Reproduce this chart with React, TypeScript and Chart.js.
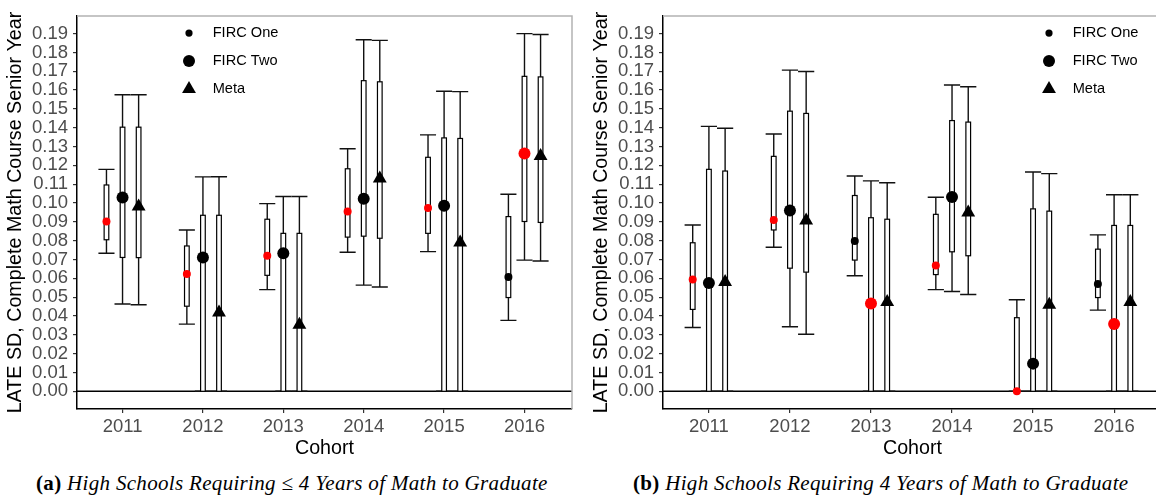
import React, { useEffect, useRef } from 'react';
import { Chart, registerables } from 'chart.js';
Chart.register(...registerables);

// ---------------- data ----------------
const cohorts = [2011, 2012, 2013, 2014, 2015, 2016];
const yTickValues = [0, 0.01, 0.02, 0.03, 0.04, 0.05, 0.06, 0.07, 0.08, 0.09, 0.1, 0.11, 0.12, 0.13, 0.14, 0.15, 0.16, 0.17, 0.18, 0.19];
const legendLabels = ['FIRC One', 'FIRC Two', 'Meta'];
const yTitle = 'LATE SD, Complete Math Course Senior Year';
const xTitle = 'Cohort';

// Panel (a): High Schools Requiring <= 4 Years of Math
const aOneEst = [0.0902, 0.0623, 0.072, 0.0955, 0.0974, 0.0607];
const aOneLo = [0.0733, 0.0357, 0.054, 0.0739, 0.0742, 0.0377];
const aOneHi = [0.1179, 0.0857, 0.0997, 0.1288, 0.1362, 0.1047];
const aOneBoxLo = [0.0805, 0.0452, 0.0616, 0.0819, 0.0839, 0.0498];
const aOneBoxHi = [0.1096, 0.0772, 0.0914, 0.1182, 0.1243, 0.0928];
const aOneSig = [true, true, true, true, true, false];

const aTwoEst = [0.103, 0.0711, 0.0733, 0.1023, 0.0986, 0.1263];
const aTwoLo = [0.0464, 0, 0, 0.0564, 0, 0.0697];
const aTwoHi = [0.1575, 0.1139, 0.1035, 0.1867, 0.1594, 0.19];
const aTwoBoxLo = [0.0711, 0, 0, 0.0824, 0, 0.0902];
const aTwoBoxHi = [0.1403, 0.0935, 0.0839, 0.165, 0.1346, 0.1673];
const aTwoSig = [false, false, false, false, false, true];

const aMetaEst = [0.0982, 0.0419, 0.0353, 0.113, 0.079, 0.125];
const aMetaLo = [0.046, 0, 0, 0.0554, 0, 0.0692];
const aMetaHi = [0.1575, 0.114, 0.1035, 0.1864, 0.1592, 0.1895];
const aMetaBoxLo = [0.071, 0, 0, 0.0813, 0, 0.0897];
const aMetaBoxHi = [0.1403, 0.0935, 0.0839, 0.1644, 0.1343, 0.167];
const aMetaSig = [false, false, false, false, false, false];

// Panel (b): High Schools Requiring 4 Years of Math
const bOneEst = [0.0594, 0.091, 0.0798, 0.0668, 0.0, 0.057];
const bOneLo = [0.0339, 0.0765, 0.0614, 0.054, 0, 0.0431];
const bOneHi = [0.0883, 0.1367, 0.1144, 0.1031, 0.0486, 0.0831];
const bOneBoxLo = [0.0435, 0.0857, 0.0697, 0.062, 0, 0.0498];
const bOneBoxHi = [0.0789, 0.1248, 0.104, 0.094, 0.0391, 0.0755];
const bOneSig = [true, true, false, true, true, false];

const bTwoEst = [0.0575, 0.0961, 0.0467, 0.1032, 0.0147, 0.0357];
const bTwoLo = [0, 0.0343, 0, 0.053, 0, 0];
const bTwoHi = [0.1407, 0.1706, 0.1118, 0.1627, 0.1165, 0.1044];
const bTwoBoxLo = [0, 0.0654, 0, 0.0741, 0, 0];
const bTwoBoxHi = [0.1179, 0.1488, 0.0922, 0.1438, 0.0969, 0.0881];
const bTwoSig = [false, false, true, false, false, true];

const bMetaEst = [0.058, 0.0907, 0.0475, 0.095, 0.046, 0.0475];
const bMetaLo = [0, 0.0303, 0, 0.0514, 0, 0];
const bMetaHi = [0.1397, 0.1699, 0.1108, 0.1618, 0.1156, 0.1044];
const bMetaBoxLo = [0, 0.0633, 0, 0.072, 0, 0];
const bMetaBoxHi = [0.117, 0.1476, 0.0914, 0.143, 0.0957, 0.0881];
const bMetaSig = [false, false, false, false, false, false];

// ---------------- styling / layout ----------------
const X_MIN = 2010.4335;
const X_MAX = 2016.591;
const Y_MIN = -0.0094;
const Y_MAX = 0.1993;
const DODGE = [-0.2, 0, 0.2];
const RADII = [4, 6, 8];
const STYLES = ['circle', 'circle', 'triangle'];
const RED = '#ff0000';
const SANS = '"Liberation Sans", Arial, sans-serif';

type Series = {
  est: number[]; lo: number[]; hi: number[]; boxLo: number[]; boxHi: number[]; sig: boolean[];
};

const panelA: Series[] = [
  { est: aOneEst, lo: aOneLo, hi: aOneHi, boxLo: aOneBoxLo, boxHi: aOneBoxHi, sig: aOneSig },
  { est: aTwoEst, lo: aTwoLo, hi: aTwoHi, boxLo: aTwoBoxLo, boxHi: aTwoBoxHi, sig: aTwoSig },
  { est: aMetaEst, lo: aMetaLo, hi: aMetaHi, boxLo: aMetaBoxLo, boxHi: aMetaBoxHi, sig: aMetaSig },
];
const panelB: Series[] = [
  { est: bOneEst, lo: bOneLo, hi: bOneHi, boxLo: bOneBoxLo, boxHi: bOneBoxHi, sig: bOneSig },
  { est: bTwoEst, lo: bTwoLo, hi: bTwoHi, boxLo: bTwoBoxLo, boxHi: bTwoBoxHi, sig: bTwoSig },
  { est: bMetaEst, lo: bMetaLo, hi: bMetaHi, boxLo: bMetaBoxLo, boxHi: bMetaBoxHi, sig: bMetaSig },
];

function makePlugin(series: Series[], legendOffsetX: number) {
  return {
    id: 'intervals',
    beforeDatasetsDraw(chart: any) {
      const { ctx, chartArea: ca, scales } = chart;
      const x = scales.x, y = scales.y;
      ctx.save();
      // zero reference line
      const y0 = y.getPixelForValue(0);
      ctx.strokeStyle = '#000';
      ctx.lineWidth = 1.4;
      ctx.beginPath();
      ctx.moveTo(ca.left, y0);
      ctx.lineTo(ca.right, y0);
      ctx.stroke();
      series.forEach((s, si) => {
        cohorts.forEach((c, i) => {
          const cx = x.getPixelForValue(c + DODGE[si]);
          const xl = x.getPixelForValue(c + DODGE[si] - 0.1);
          const xr = x.getPixelForValue(c + DODGE[si] + 0.1);
          const yl = y.getPixelForValue(s.lo[i]);
          const yh = y.getPixelForValue(s.hi[i]);
          ctx.strokeStyle = '#111';
          ctx.lineWidth = 1.4;
          ctx.beginPath();
          ctx.moveTo(cx, yl); ctx.lineTo(cx, yh);
          ctx.moveTo(xl, yl); ctx.lineTo(xr, yl);
          ctx.moveTo(xl, yh); ctx.lineTo(xr, yh);
          ctx.stroke();
          const hw = x.getPixelForValue(c + DODGE[si] + 0.029) - cx;
          const b1 = y.getPixelForValue(s.boxHi[i]);
          const b2 = y.getPixelForValue(s.boxLo[i]);
          ctx.fillStyle = '#fff';
          ctx.fillRect(cx - hw, b1, 2 * hw, b2 - b1);
          ctx.strokeStyle = '#000';
          ctx.lineWidth = 1.2;
          ctx.strokeRect(cx - hw, b1, 2 * hw, b2 - b1);
        });
      });
      ctx.restore();
    },
    afterDraw(chart: any) {
      const { ctx, chartArea: ca } = chart;
      ctx.save();
      // panel border (top / right)
      ctx.strokeStyle = '#b3b3b3';
      ctx.lineWidth = 1.5;
      ctx.beginPath();
      ctx.moveTo(ca.left, ca.top);
      ctx.lineTo(ca.right, ca.top);
      ctx.lineTo(ca.right, ca.bottom);
      ctx.stroke();
      // titles
      ctx.fillStyle = '#000';
      ctx.font = `19.7px ${SANS}`;
      ctx.textAlign = 'center';
      ctx.textBaseline = 'middle';
      ctx.fillText(xTitle, (ca.left + ca.right) / 2, ca.bottom + 40);
      ctx.save();
      ctx.translate(ca.left - 61, (ca.top + ca.bottom) / 2);
      ctx.rotate(-Math.PI / 2);
      ctx.fillText(yTitle, 0, 0);
      ctx.restore();
      // legend
      const lx = ca.left + legendOffsetX;
      const rows = [ca.top + 17, ca.top + 45, ca.top + 73];
      const lr = [3.6, 6, 8];
      legendLabels.forEach((lab, k) => {
        const ly = rows[k];
        ctx.fillStyle = '#000';
        ctx.beginPath();
        if (k < 2) {
          ctx.arc(lx, ly, lr[k], 0, Math.PI * 2);
        } else {
          const r = lr[k];
          ctx.moveTo(lx, ly - r);
          ctx.lineTo(lx + 0.866 * r, ly + r / 2);
          ctx.lineTo(lx - 0.866 * r, ly + r / 2);
          ctx.closePath();
        }
        ctx.fill();
        ctx.font = `14.6px ${SANS}`;
        ctx.textAlign = 'left';
        ctx.textBaseline = 'middle';
        ctx.fillText(lab, lx + 23.7, ly);
      });
      ctx.restore();
    },
  };
}

function buildConfig(series: Series[], yAxisWidth: number, xAxisHeight: number, padRight: number, legendOffsetX: number): any {
  const datasets = series.map((s, si) => ({
    type: 'scatter',
    label: legendLabels[si],
    data: cohorts.map((c, i) => ({ x: c + DODGE[si], y: s.est[i] })),
    pointStyle: STYLES[si],
    pointRadius: RADII[si],
    pointBorderWidth: 0,
    pointBackgroundColor: s.sig.map((v) => (v ? RED : '#000')),
    pointBorderColor: s.sig.map((v) => (v ? RED : '#000')),
    showLine: false,
  }));
  return {
    type: 'scatter',
    data: { datasets },
    options: {
      animation: false,
      responsive: false,
      devicePixelRatio: 1,
      events: [],
      layout: { padding: { top: 7, right: padRight, left: 0, bottom: 0 } },
      plugins: { legend: { display: false }, tooltip: { enabled: false }, title: { display: false } },
      scales: {
        x: {
          type: 'linear',
          min: X_MIN,
          max: X_MAX,
          afterBuildTicks: (scale: any) => { scale.ticks = cohorts.map((v) => ({ value: v })); },
          afterFit: (scale: any) => { scale.height = xAxisHeight; },
          ticks: {
            callback: (v: any) => String(v),
            color: '#4d4d4d',
            font: { family: SANS, size: 18.5 },
            padding: 3,
            maxRotation: 0,
            autoSkip: false,
          },
          grid: { drawOnChartArea: false, drawTicks: true, tickLength: 4, color: '#333', lineWidth: 1.2 },
          border: { display: true, color: '#000', width: 1.5 },
        },
        y: {
          type: 'linear',
          min: Y_MIN,
          max: Y_MAX,
          afterBuildTicks: (scale: any) => { scale.ticks = yTickValues.map((v) => ({ value: v })); },
          afterFit: (scale: any) => { scale.width = yAxisWidth; },
          ticks: {
            callback: (v: any) => Number(v).toFixed(2),
            color: '#4d4d4d',
            font: { family: SANS, size: 18.5 },
            padding: 5,
            autoSkip: false,
          },
          grid: { drawOnChartArea: false, drawTicks: true, tickLength: 4, color: '#333', lineWidth: 1.2 },
          border: { display: true, color: '#000', width: 1.5 },
        },
      },
    },
    plugins: [makePlugin(series, legendOffsetX)],
  };
}

export default function App() {
  const refA = useRef<HTMLCanvasElement>(null);
  const refB = useRef<HTMLCanvasElement>(null);
  useEffect(() => {
    const ca = new Chart(refA.current as HTMLCanvasElement, buildConfig(panelA, 77, 51, 4, 112));
    const cb = new Chart(refB.current as HTMLCanvasElement, buildConfig(panelB, 83, 51, 7, 386));
    return () => { ca.destroy(); cb.destroy(); };
  }, []);
  const capStyle: React.CSSProperties = {
    position: 'absolute',
    top: 473,
    fontFamily: '"Liberation Serif", "Times New Roman", serif',
    fontSize: 21,
    letterSpacing: '0.32px',
    lineHeight: '21px',
    whiteSpace: 'nowrap',
    color: '#000',
  };
  return (
    <div style={{ position: 'absolute', left: 0, top: 0, width: 1156, height: 501, background: '#fff', overflow: 'hidden' }}>
      <div style={{ position: 'absolute', left: 0, top: 0, width: 580, height: 460 }}>
        <canvas ref={refA} width={580} height={460} />
      </div>
      <div style={{ position: 'absolute', left: 580, top: 0, width: 576, height: 460, overflow: 'hidden' }}>
        <canvas ref={refB} width={590} height={460} />
      </div>
      <div style={{ ...capStyle, left: 36 }}>
        <b>(a)</b> <i>High Schools Requiring ≤ 4 Years of Math to Graduate</i>
      </div>
      <div style={{ ...capStyle, left: 633 }}>
        <b>(b)</b> <i>High Schools Requiring 4 Years of Math to Graduate</i>
      </div>
    </div>
  );
}
